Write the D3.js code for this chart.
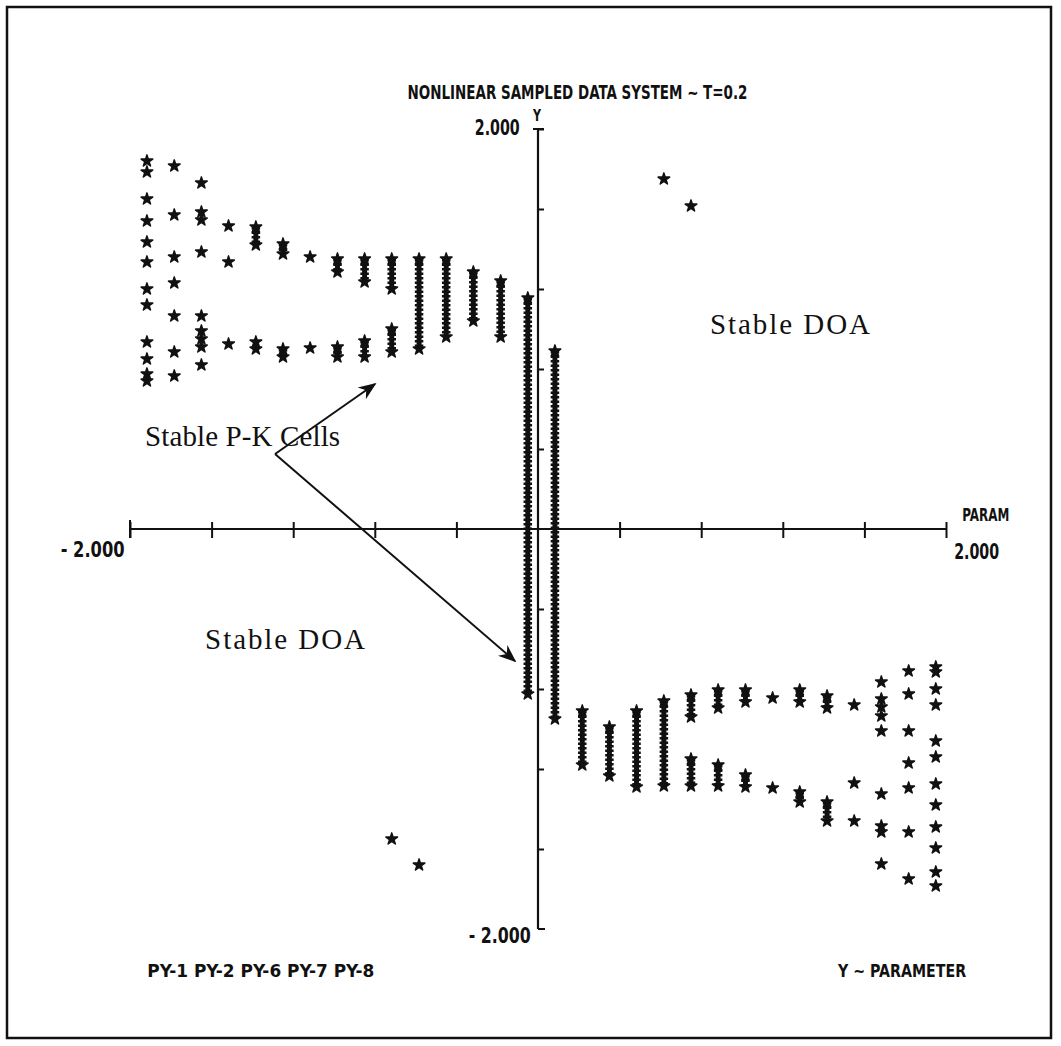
<!DOCTYPE html>
<meta charset="utf-8">
<style>
body { margin: 0; background: #fff; }
.plotter { font-family: "Liberation Sans Narrow", "DejaVu Sans Condensed", sans-serif; font-weight: bold; fill: #111; }
.note { font-family: "Liberation Serif", "DejaVu Serif", serif; font-size: 29px; fill: #111; }
</style>
<body>
<div id="chart"></div>
<script src="https://cdn.jsdelivr.net/npm/d3@7"></script>
<script>
// parameter value of each of the 30 columns
var colX = [-1.917, -1.783, -1.650, -1.517, -1.383, -1.250, -1.117, -0.983, -0.850, -0.717,
            -0.583, -0.450, -0.317, -0.183, -0.050, 0.083, 0.217, 0.350, 0.483, 0.617,
            0.750, 0.883, 1.017, 1.150, 1.283, 1.417, 1.550, 1.683, 1.817, 1.950];

// isolated asterisks per column (Y values)
var singleY = [
  [1.84, 1.785, 1.65, 1.54, 1.435, 1.335, 1.2, 1.12, 0.935, 0.85, 0.775, 0.74],
  [1.815, 1.57, 1.36, 1.23, 1.065, 0.885, 0.765],
  [1.73, 1.585, 1.545, 1.385, 1.065, 0.99, 0.95, 0.91, 0.82],
  [1.515, 1.335, 0.925],
  [0.935, 0.9],
  [],
  [1.36, 0.905],
  [],
  [],
  [-1.55],
  [-1.68],
  [], [], [], [], [], [], [], [],
  [1.75],
  [1.615],
  [], [],
  [-0.845, -1.295],
  [],
  [],
  [-0.88, -1.27, -1.46],
  [-0.765, -0.85, -0.89, -0.935, -1.01, -1.325, -1.485, -1.515, -1.675],
  [-0.71, -0.825, -1.01, -1.17, -1.295, -1.515, -1.75],
  [-0.69, -0.715, -0.8, -0.88, -1.06, -1.14, -1.275, -1.38, -1.49, -1.595, -1.715, -1.785]
];

// dense runs of asterisks per column: [top Y, bottom Y]
var stackY = [
  [], [], [], [],
  [[1.51, 1.42]],
  [[1.425, 1.375], [0.9, 0.86]],
  [],
  [[1.35, 1.285], [0.91, 0.86]],
  [[1.35, 1.235], [0.94, 0.86]],
  [[1.35, 1.2], [1.0, 0.885]],
  [[1.35, 0.9]],
  [[1.35, 0.96]],
  [[1.285, 1.04]],
  [[1.24, 0.96]],
  [[1.155, -0.825]],
  [[0.89, -0.95]],
  [[-0.91, -1.18]],
  [[-0.99, -1.235]],
  [[-0.91, -1.29]],
  [[-0.86, -1.285]],
  [[-0.83, -0.94], [-1.15, -1.285]],
  [[-0.805, -0.895], [-1.18, -1.285]],
  [[-0.805, -0.865], [-1.23, -1.29]],
  [],
  [[-0.805, -0.865], [-1.315, -1.365]],
  [[-0.835, -0.895], [-1.365, -1.46]],
  [], [], [], []
];

var xTicks = [-2, -1.6, -1.2, -0.8, -0.4, 0.4, 0.8, 1.2, 1.6, 2];
var yTicks = [-1.6, -1.2, -0.8, -0.4, 0.4, 0.8, 1.2, 1.6, 2];

var title = "NONLINEAR SAMPLED DATA SYSTEM ~ T=0.2";
var legendText = "PY-1 PY-2 PY-6 PY-7 PY-8";
var axisText = "Y ~ PARAMETER";

var W = 1061, H = 1046;
var x = d3.scaleLinear().domain([-2, 2]).range([130, 946]);
var y = d3.scaleLinear().domain([-2, 2]).range([929, 129]);

var svg = d3.select("#chart").append("svg")
    .attr("width", W).attr("height", H);

// frame
svg.append("rect")
    .attr("x", 7).attr("y", 7).attr("width", 1044).attr("height", 1031)
    .attr("fill", "none").attr("stroke", "#111").attr("stroke-width", 2.5);

// x axis
var gx = svg.append("g")
    .attr("transform", "translate(0," + y(0) + ")")
    .call(d3.axisBottom(x).tickValues(xTicks).tickSize(9).tickFormat(""));
gx.select(".domain").remove();
gx.selectAll(".tick line").attr("y1", -7).attr("stroke", "#111").attr("stroke-width", 2);
gx.append("line").attr("x1", x(-2)).attr("x2", x(2))
    .attr("stroke", "#111").attr("stroke-width", 2.2);
gx.append("line").attr("x1", x(-2)).attr("x2", x(-2)).attr("y1", -9).attr("y2", 9)
    .attr("stroke", "#111").attr("stroke-width", 2);

// y axis
var gy = svg.append("g")
    .attr("transform", "translate(" + x(0) + ",0)")
    .call(d3.axisRight(y).tickValues(yTicks).tickSize(6).tickFormat(""));
gy.select(".domain").remove();
gy.selectAll(".tick line").attr("stroke", "#111").attr("stroke-width", 2);
gy.append("line").attr("y1", y(2)).attr("y2", y(-2))
    .attr("stroke", "#111").attr("stroke-width", 2.2);
gy.append("line").attr("x1", -5).attr("x2", 6).attr("y1", y(2)).attr("y2", y(2))
    .attr("stroke", "#111").attr("stroke-width", 2);
gy.append("line").attr("x1", 0).attr("x2", 7).attr("y1", y(-2)).attr("y2", y(-2))
    .attr("stroke", "#111").attr("stroke-width", 2);

// plotter style labels
function ptext(str, px, py, size, len) {
  var t = svg.append("text").attr("class", "plotter")
      .attr("x", px).attr("y", py)
      .style("font-size", size + "px")
      .text(str);
  if (len) t.attr("textLength", len).attr("lengthAdjust", "spacingAndGlyphs");
  return t;
}
ptext(title, x(-0.64), y(2.15), 19, 340);
ptext("2.000", x(-0.31), y(1.97), 21, 45);
ptext("Y", x(-0.025), y(2.04), 16, 8);
ptext("- 2.000", x(-2.34), y(-0.14), 21, 64);
ptext("PARAM", x(2.08), y(0.04), 18, 47);
ptext("2.000", x(2.04), y(-0.15), 21, 45);
ptext("- 2.000", x(-0.34), y(-2.07), 21, 62);
ptext(legendText, x(-1.915), y(-2.24), 18, 227);
ptext(axisText, x(1.471), y(-2.24), 18, 128);

// marks
var pts = [];
singleY.forEach(function(ys, i) {
  ys.forEach(function(v) { pts.push({x: colX[i], y: v}); });
});
var runs = [];
stackY.forEach(function(segs, i) {
  segs.forEach(function(s) { runs.push({x: colX[i], y0: s[0], y1: s[1]}); });
});

var star = d3.symbol().type(d3.symbolStar).size(42);

var gr = svg.append("g");
// solid core of each dense run
gr.selectAll("line.core")
    .data(runs).enter().append("line").attr("class", "core")
    .attr("x1", function(d) { return x(d.x); })
    .attr("x2", function(d) { return x(d.x); })
    .attr("y1", function(d) { return y(d.y0); })
    .attr("y2", function(d) { return y(d.y1); })
    .attr("stroke", "#111").attr("stroke-width", 5);
// bumpy edge of stacked asterisks
gr.selectAll("line.edge")
    .data(runs).enter().append("line").attr("class", "edge")
    .attr("x1", function(d) { return x(d.x); })
    .attr("x2", function(d) { return x(d.x); })
    .attr("y1", function(d) { return y(d.y0); })
    .attr("y2", function(d) { return y(d.y1); })
    .attr("stroke", "#111").attr("stroke-width", 8.5)
    .attr("stroke-dasharray", "2.5 2");

var ends = [];
runs.forEach(function(r) { ends.push({x: r.x, y: r.y0}); ends.push({x: r.x, y: r.y1}); });

svg.append("g").selectAll("path")
    .data(pts.concat(ends)).enter().append("path")
    .attr("d", star)
    .attr("transform", function(d) { return "translate(" + x(d.x) + "," + y(d.y) + ")"; })
    .attr("fill", "#111").attr("stroke", "#111").attr("stroke-width", 1.5)
    .attr("stroke-linejoin", "round");

// annotations
var notes = [
  {text: "Stable DOA", x: 0.843, y: 0.975, w: 160},
  {text: "Stable P-K Cells", x: -1.926, y: 0.415, w: 195},
  {text: "Stable DOA", x: -1.632, y: -0.6, w: 160}
];
svg.append("g").selectAll("text")
    .data(notes).enter().append("text")
    .attr("class", "note")
    .attr("x", function(d) { return x(d.x); })
    .attr("y", function(d) { return y(d.y); })
    .attr("textLength", function(d) { return d.w; })
    .attr("lengthAdjust", "spacing")
    .text(function(d) { return d.text; });

var arrows = [
  {from: [-1.289, 0.375], to: [-0.799, 0.725]},
  {from: [-1.289, 0.375], to: [-0.113, -0.66]}
];
svg.append("defs").append("marker")
    .attr("id", "head").attr("viewBox", "0 0 10 10")
    .attr("refX", 9).attr("refY", 5)
    .attr("markerWidth", 9).attr("markerHeight", 9)
    .attr("orient", "auto")
  .append("path").attr("d", "M0,1 L10,5 L0,9 L3,5 Z").attr("fill", "#111");

svg.append("g").selectAll("line")
    .data(arrows).enter().append("line")
    .attr("x1", function(d) { return x(d.from[0]); })
    .attr("y1", function(d) { return y(d.from[1]); })
    .attr("x2", function(d) { return x(d.to[0]); })
    .attr("y2", function(d) { return y(d.to[1]); })
    .attr("stroke", "#111").attr("stroke-width", 2)
    .attr("marker-end", "url(#head)");
</script>
</body>
